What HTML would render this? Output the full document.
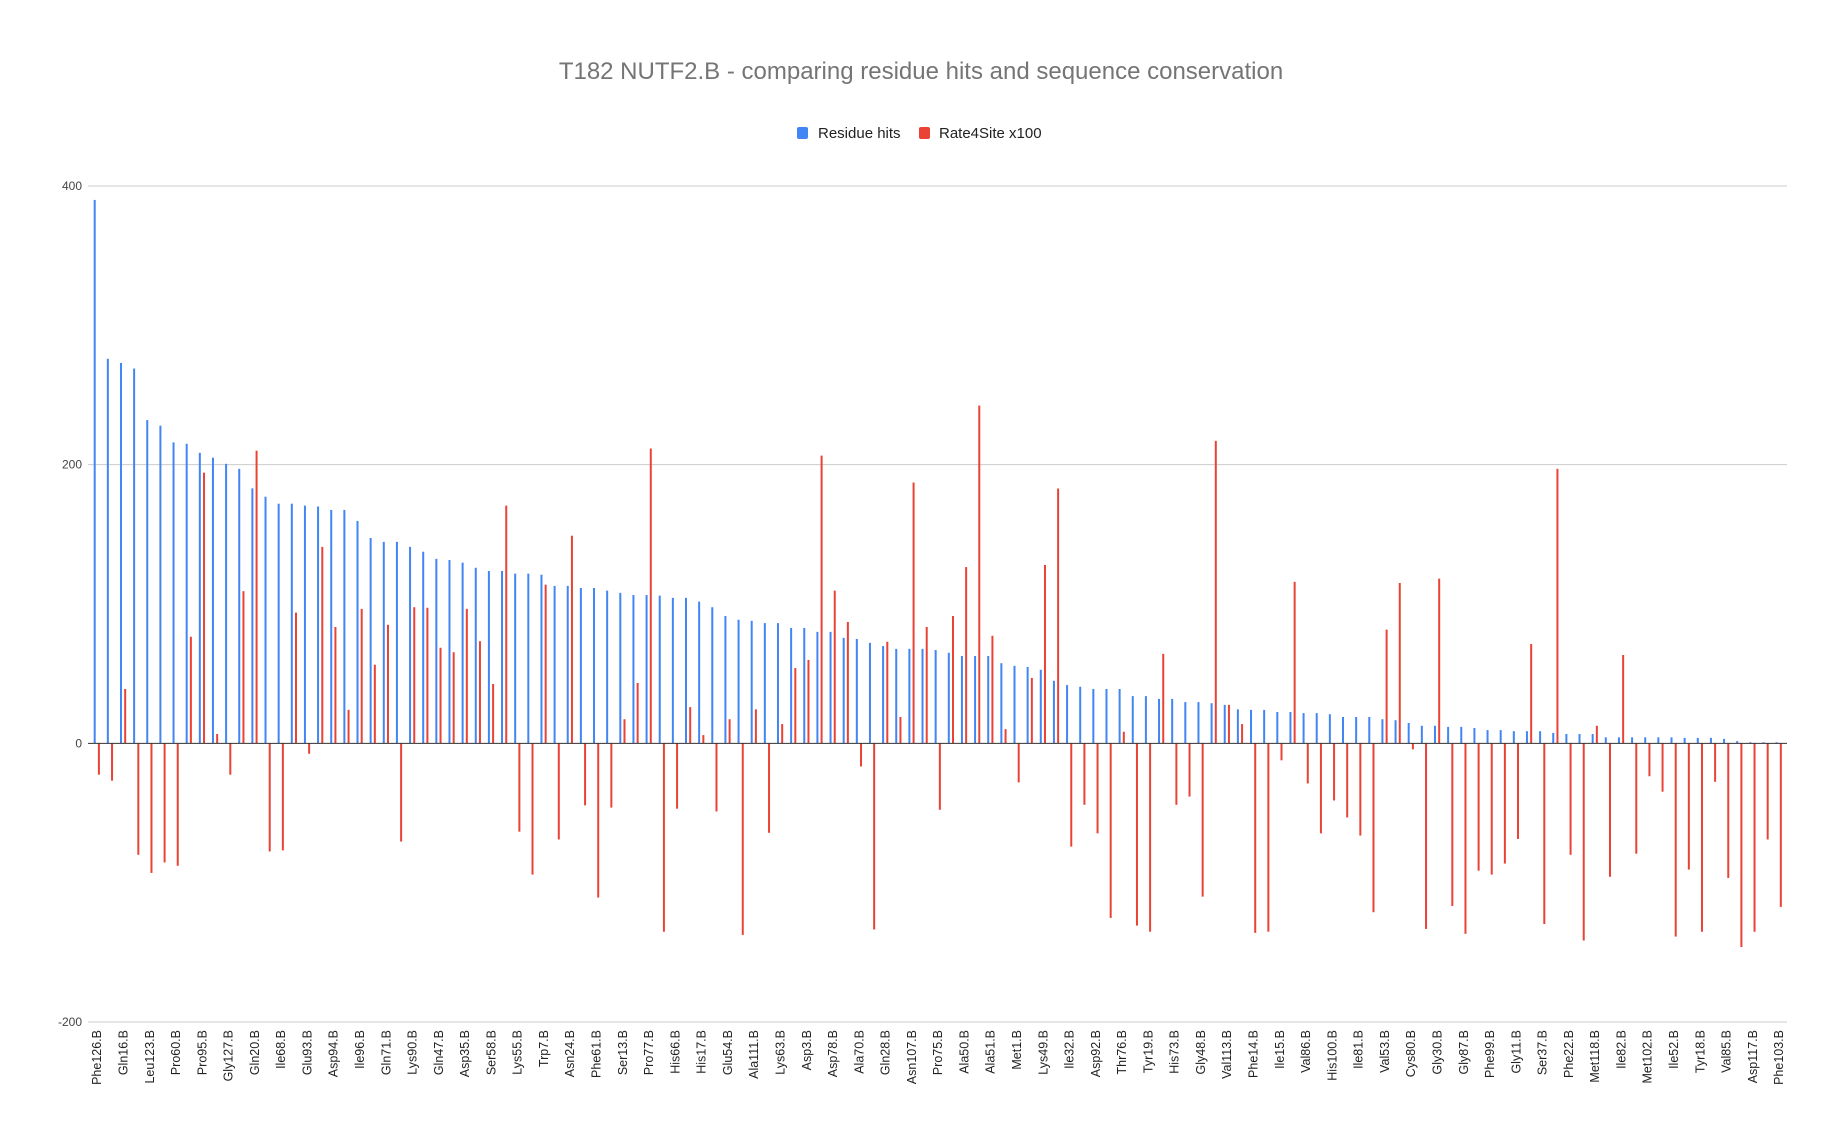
<!DOCTYPE html>
<html><head><meta charset="utf-8">
<style>
html,body{margin:0;padding:0;background:#fff;}
svg{display:block;font-family:"Liberation Sans",Arial,sans-serif;}
</style></head>
<body>
<svg id="chart" width="1843" height="1139" viewBox="0 0 1843 1139" xmlns="http://www.w3.org/2000/svg">
<rect x="0" y="0" width="1843" height="1139" fill="#ffffff"/>
<text x="921" y="79" text-anchor="middle" font-size="24" fill="#757575">T182 NUTF2.B - comparing residue hits and sequence conservation</text>
<g>
<g>
<rect x="797" y="127" width="11" height="12" rx="2" fill="#4285f4"/>
<text x="818" y="138" font-size="15" fill="#222">Residue hits</text>
</g>
<g>
<rect x="919" y="127" width="11" height="12" rx="2" fill="#ea4335"/>
<text x="939" y="138" font-size="15" fill="#222">Rate4Site x100</text>
</g>
</g>
<g id="grid"></g>
<g id="yaxis"></g>
<g id="bars"></g>
<g id="xaxis"></g>
</svg>
<script>
const categories = ["Phe126.B","c1","Gln16.B","c3","Leu123.B","c5","Pro60.B","c7","Pro95.B","c9","Gly127.B","c11","Gln20.B","c13","Ile68.B","c15","Glu93.B","c17","Asp94.B","c19","Ile96.B","c21","Gln71.B","c23","Lys90.B","c25","Gln47.B","c27","Asp35.B","c29","Ser58.B","c31","Lys55.B","c33","Trp7.B","c35","Asn24.B","c37","Phe61.B","c39","Ser13.B","c41","Pro77.B","c43","His66.B","c45","His17.B","c47","Glu54.B","c49","Ala111.B","c51","Lys63.B","c53","Asp3.B","c55","Asp78.B","c57","Ala70.B","c59","Gln28.B","c61","Asn107.B","c63","Pro75.B","c65","Ala50.B","c67","Ala51.B","c69","Met1.B","c71","Lys49.B","c73","Ile32.B","c75","Asp92.B","c77","Thr76.B","c79","Tyr19.B","c81","His73.B","c83","Gly48.B","c85","Val113.B","c87","Phe14.B","c89","Ile15.B","c91","Val86.B","c93","His100.B","c95","Ile81.B","c97","Val53.B","c99","Cys80.B","c101","Gly30.B","c103","Gly87.B","c105","Phe99.B","c107","Gly11.B","c109","Ser37.B","c111","Phe22.B","c113","Met118.B","c115","Ile82.B","c117","Met102.B","c119","Ile52.B","c121","Tyr18.B","c123","Val85.B","c125","Asp117.B","c127","Phe103.B"];
const residueHits = [390,276,273,269,232,228,216,215,208.5,205,200.6,197,183,177,172,172,170.6,170,167.5,167.5,159.6,147.4,144.6,144.6,141,137.5,132.4,131.6,129.7,126,123.7,123.7,121.8,121.8,121,113,113,111.5,111.5,109.6,108,106.4,106.4,106,104.4,104.4,101.7,97.7,91.4,88.7,87.9,86.3,86.3,82.8,82.8,80,80,75.7,74.9,72.1,69.8,67.8,67.8,67.8,67,65,62.7,62.7,62.7,57.5,55.6,54.8,52.8,44.9,41.8,40.6,39,39,39,33.9,33.9,31.9,31.9,29.6,29.6,28.8,27.6,24.4,24,24,22.5,22.5,21.7,21.7,20.9,18.9,18.9,18.9,17.3,16.6,14.6,12.6,12.6,11.8,11.8,11,9.5,9.5,8.7,8.7,8.7,7.5,6.7,6.7,6.7,4.3,4.3,4.3,4.3,4.3,4.3,3.9,3.9,3.9,3.2,1.6,0.8,0.8,0.8];
const rate4site = [-22.5,-26.8,39,-80,-93,-85.5,-87.9,76.5,194.3,6.7,-22.5,109.2,210,-77.6,-76.8,93.8,-7.5,141,83.5,24,96.5,56.4,85.1,-70.5,97.7,97.3,68.6,65.4,96.5,73.3,42.6,170.6,-63.4,-94.2,113.9,-69,149,-44.5,-110.7,-46.1,17.3,43.3,211.6,-135.2,-46.9,26,5.9,-48.9,17.3,-137.5,24.4,-64.2,13.8,54,59.9,206.5,109.6,87.1,-16.6,-133.6,72.9,18.9,187.2,83.5,-47.7,91.4,126.5,242.4,77.2,10.2,-28,46.9,128,182.9,-74.1,-44.1,-64.6,-125.3,8.3,-130.8,-135.2,64.2,-44.1,-38.2,-110,217.1,27.6,13.8,-136,-135.2,-12.2,115.9,-28.8,-64.6,-41,-53.2,-66.2,-121.2,81.6,115.1,-4.3,-133.2,118.2,-116.7,-136.7,-91.4,-94.2,-86.3,-68.6,71.3,-129.7,197,-80,-141.5,12.6,-95.8,63.4,-79.2,-23.6,-34.7,-138.7,-90.6,-135.2,-27.6,-96.6,-146.2,-135.2,-69,-117.4];
const yTicks = [400, 200, 0, -200];
const yTickLabels = ["400", "200", "0", "-200"];

const NS = "http://www.w3.org/2000/svg";
const plotLeft = 88, plotRight = 1787;
const yTop = 186, yBottom = 1022, yMax = 400, yMin = -200;
const firstX = 93.7, step = 13.14;
function yScale(v){ return yTop + (yMax - v) * (yBottom - yTop) / (yMax - yMin); }
function xScale(i){ return firstX + i * step; }
function mk(tag, attrs){ const e = document.createElementNS(NS, tag); for (const k in attrs) e.setAttribute(k, attrs[k]); return e; }

const grid = document.getElementById('grid');
const yaxis = document.getElementById('yaxis');
yTicks.forEach((t, k) => {
  const y = yScale(t);
  if (t !== 0) {
    const ln = mk('line', {x1: plotLeft, x2: plotRight, y1: y, y2: y, stroke: '#cccccc', 'stroke-width': 1});
    
    
    grid.appendChild(ln);
  }
  const tx = mk('text', {x: 82, y: y + 4, 'text-anchor': 'end', 'font-size': 12, fill: '#444'});
  tx.textContent = yTickLabels[k];
  
  
  yaxis.appendChild(tx);
});

const bars = document.getElementById('bars');
const y0 = yScale(0);
categories.forEach((c, i) => {
  const bx = xScale(i);
  const hb = yScale(residueHits[i]);
  const b = mk('rect', {x: bx, y: Math.min(hb, y0), width: 2, height: Math.abs(y0 - hb), fill: '#4285f4'});
  
  
  bars.appendChild(b);
  const hr = yScale(rate4site[i]);
  const r = mk('rect', {x: bx + 4.2, y: Math.min(hr, y0), width: 2, height: Math.abs(y0 - hr), fill: '#ea4335'});
  
  
  bars.appendChild(r);
});
const zl = mk('line', {x1: plotLeft, x2: plotRight, y1: y0, y2: y0, stroke: '#333333', 'stroke-width': 1});


bars.appendChild(zl);

const xaxis = document.getElementById('xaxis');
categories.forEach((c, i) => {
  if (i % 2 !== 0) return;
  const x = xScale(i) + 3;
  const t = mk('text', {x: 0, y: 0, 'text-anchor': 'end', 'font-size': 12.5, fill: '#222',
    transform: 'translate(' + (x + 4.5) + ',1030) rotate(-90)'});
  t.textContent = c;
  
  
  xaxis.appendChild(t);
});
</script>
</body></html>
